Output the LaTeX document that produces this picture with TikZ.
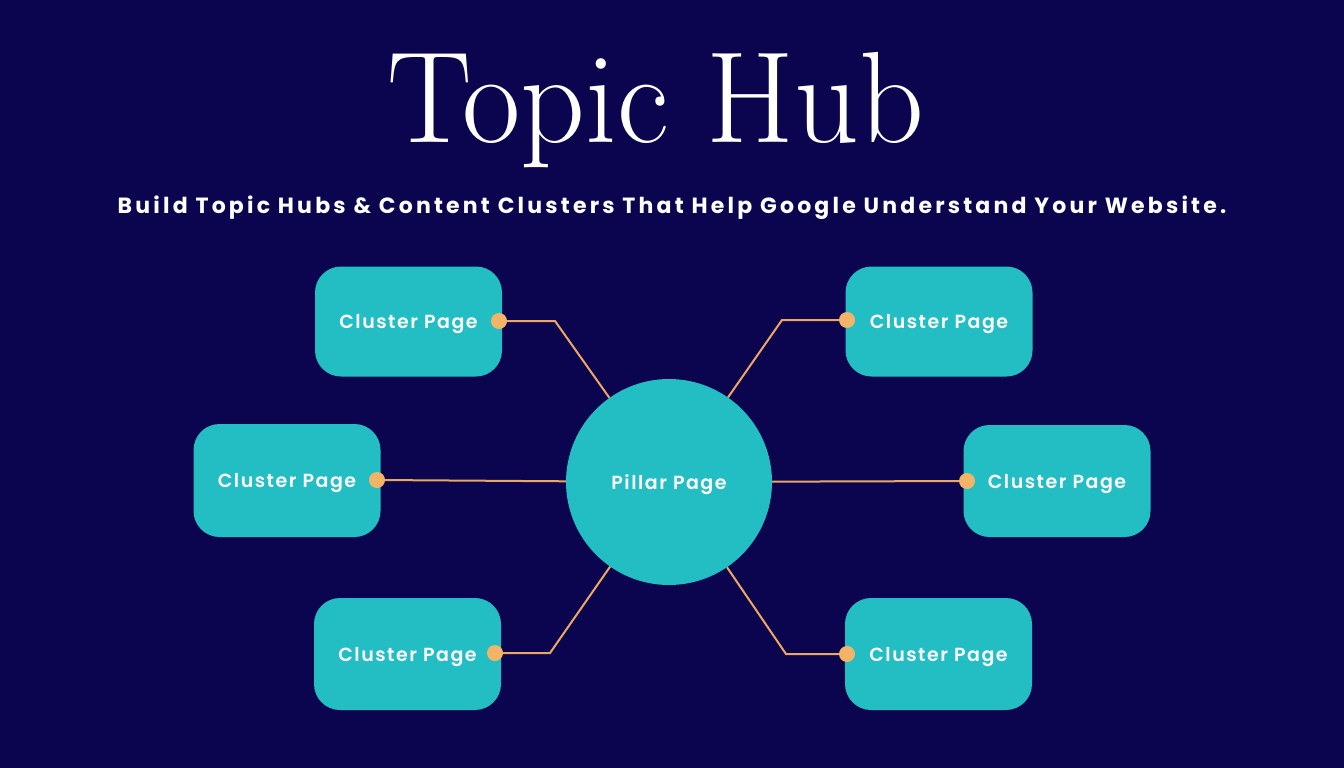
\documentclass[tikz,border=0pt]{standalone}
\usepackage{fontspec}
\usepackage{xcolor}
\usepackage{tikz}
\usetikzlibrary{positioning}

\newfontfamily\subfont{Poppins}[UprightFont=* Bold, LetterSpace=14.5]
\newfontfamily\boxfont{Poppins}[UprightFont=* SemiBold, LetterSpace=8]

\definecolor{hubnavy}{RGB}{11,4,78}
\definecolor{hubteal}{RGB}{34,190,196}
\definecolor{hubline}{RGB}{236,168,98}
\definecolor{hubdot}{RGB}{244,180,104}

\begin{document}
\begin{tikzpicture}[x=1pt, y=-1pt,
    cluster/.style={fill=hubteal, rounded corners=26pt, minimum width=187pt,
      minimum height=110pt, text depth=0pt, text=white,
      font=\boxfont\fontsize{19}{19}\selectfont},
    pillar/.style={circle, fill=hubteal, minimum size=206pt, inner sep=0pt,
      text depth=0pt, text=white, font=\boxfont\fontsize{19}{19}\selectfont},
    link/.style={hubline, line width=2pt},
    hubdot/.style={circle, fill=hubdot, minimum size=16pt, inner sep=0pt}]
  % background
  \fill[hubnavy] (0,0) rectangle (1344,768);
  \useasboundingbox (0,0) rectangle (1344,768);

  % title and tagline
  \node[text=white, font=\fontsize{130}{130}\selectfont, anchor=base]
    (title) at (656,142) {\scalebox{0.975}[1]{Topic Hub}};
  \node[text=white, font=\subfont\fontsize{22}{22}\selectfont, anchor=base]
    (tagline) at (672,213) {Build Topic Hubs \& Content Clusters That Help Google Understand Your Website.};

  % cluster pages
  \node[cluster] (c1) at (408.5,321.5) {Cluster Page};
  \node[cluster] (c2) at (939,321.5) {Cluster Page};
  \node[cluster, minimum height=113pt] (c3) at (287,480.5) {Cluster Page};
  \node[cluster, minimum height=112pt] (c4) at (1057,481) {Cluster Page};
  \node[cluster, minimum height=112pt] (c5) at (407.5,654) {Cluster Page};
  \node[cluster, minimum height=112pt] (c6) at (938.5,654) {Cluster Page};

  % dots and knees
  \coordinate (d1) at (499,321);
  \coordinate (d2) at (847,320);
  \coordinate (d3) at (377,480);
  \coordinate (d4) at (967,481);
  \coordinate (d5) at (495,653);
  \coordinate (d6) at (847,654);
  \coordinate (k1) at (555,321);
  \coordinate (k2) at (782,320);
  \coordinate (k5) at (550,653);
  \coordinate (k6) at (786,654);

  % pillar page
  \node[pillar] (pillar) at (669,482) {Pillar Page};

  % connectors
  \draw[link] (d1) -- (k1) -- (pillar);
  \draw[link] (d2) -- (k2) -- (pillar);
  \draw[link] (d3) -- (pillar);
  \draw[link] (d4) -- (pillar);
  \draw[link] (d5) -- (k5) -- (pillar);
  \draw[link] (d6) -- (k6) -- (pillar);
  \foreach \d in {d1,d2,d3,d4,d5,d6} {
    \node[hubdot] at (\d) {};
  }
\end{tikzpicture}
\end{document}
